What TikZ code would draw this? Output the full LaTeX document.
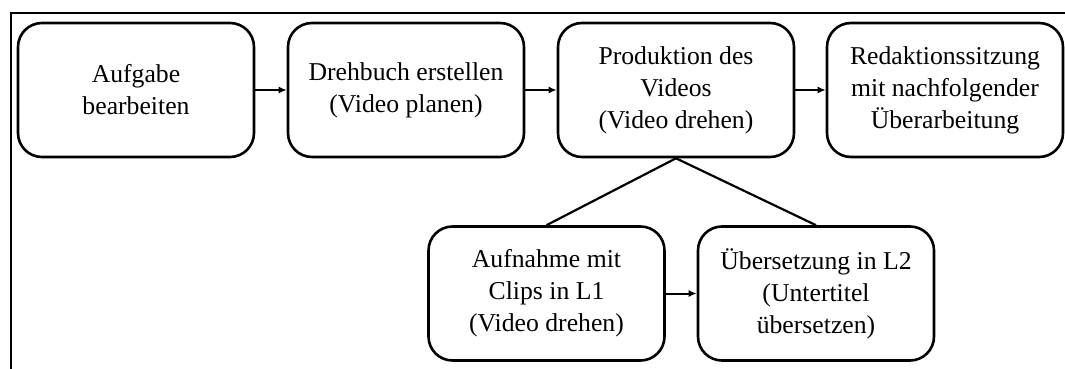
\documentclass[tikz,border=0pt]{standalone}
\usepackage{fontspec}
\setmainfont{Liberation Serif}
\usetikzlibrary{arrows.meta}
\begin{document}
\begin{tikzpicture}[x=1pt,y=-1pt,
  stepbox/.style={draw=black, line width=2.6pt, rounded corners=24pt,
    minimum width=236pt, minimum height=134pt, inner sep=0pt, align=center,
    font=\fontsize{25.7}{32}\selectfont},
  flow/.style={line width=2pt, -{Latex[length=8pt,width=7pt]}},
  link/.style={line width=2.2pt}]
\useasboundingbox (0,0) rectangle (1065,369);
\draw[line width=2pt] (1065,13) -- (11,13) -- (11,369);
\node[stepbox] (a) at (136,90) {Aufgabe\\bearbeiten};
\node[stepbox] (b) at (406,90) {Drehbuch erstellen\\(Video planen)};
\node[stepbox] (c) at (676,90) {Produktion des\\Videos\\(Video drehen)};
\node[stepbox] (d) at (945,90) {Redaktionssitzung\\mit nachfolgender\\Überarbeitung};
\node[stepbox] (e) at (546.5,293.5) {Aufnahme mit\\Clips in L1\\(Video drehen)};
\node[stepbox] (f) at (816,293.5) {Übersetzung in L2\\(Untertitel\\übersetzen)};
\draw[flow] (a) -- (b);
\draw[flow] (b) -- (c);
\draw[flow] (c) -- (d);
\draw[flow] (e) -- (f);
\draw[link] (c.south) -- (e.north);
\draw[link] (c.south) -- (f.north);
\end{tikzpicture}
\end{document}
